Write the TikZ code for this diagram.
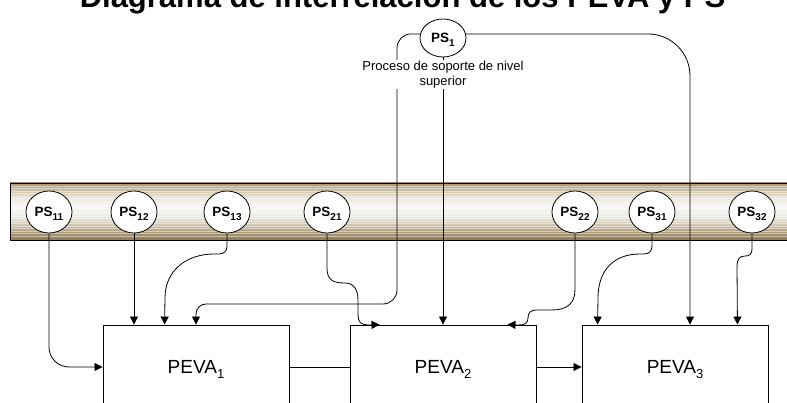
\documentclass[tikz,border=0pt]{standalone}
\usepackage{fontspec}
\setmainfont{Liberation Sans}
\usetikzlibrary{arrows.meta,shapes.geometric,calc}
\definecolor{bA}{HTML}{8C7852}
\definecolor{bB}{HTML}{AD9C7A}
\definecolor{bC}{HTML}{D3C8B2}
\definecolor{bD}{HTML}{ECEBE5}
\definecolor{bE}{HTML}{F7F7F5}
\definecolor{bF}{HTML}{EBE5DA}
\definecolor{bG}{HTML}{D3C6AD}
\definecolor{bH}{HTML}{A69272}
\pgfdeclareverticalshading{bandshade}{100bp}{color(0bp)=(bA); color(25bp)=(bA); color(32bp)=(bB); color(39bp)=(bC); color(46bp)=(bD); color(55bp)=(bE); color(62bp)=(bF); color(68bp)=(bG); color(75bp)=(bH); color(100bp)=(bH)}
\newcommand\psl[1]{\makebox[0pt]{PS\smash{\raisebox{-3.5pt}{\fontsize{10}{11}\selectfont\bfseries #1}}}}
\newcommand\pvl[1]{PEVA\smash{\raisebox{-5pt}{\fontsize{13}{14}\selectfont #1}}}
\begin{document}
\begin{tikzpicture}[x=1pt,y=-1pt,line join=round,
  conn/.style={draw=black,line width=0.8pt},
  arr/.style={conn,-{Triangle[length=8pt,width=8pt]}},
  psnode/.style={ellipse,draw=black,line width=0.8pt,fill=white,minimum width=46pt,minimum height=42pt,inner sep=0pt,font=\fontsize{13.5}{15}\selectfont\bfseries},
  pevabox/.style={rectangle,draw=black,line width=0.9pt,fill=white,minimum width=186pt,minimum height=84pt,inner sep=0pt,font=\fontsize{19}{22}\selectfont},
  bandline/.style={white,opacity=0.45,line width=0.8pt}]
\useasboundingbox (0,0) rectangle (787,403);
\clip (0,0) rectangle (787,403);
% title
\node[anchor=base,font=\fontsize{31}{36}\selectfont\bfseries] (title) at (402.5,8) {Diagrama de interrelación de los PEVA y PS};
% band
\shade[shading=bandshade] (10,183) rectangle (800,240);
\foreach \yy in {186,188.5,...,238} {\draw[bandline] (10,\yy) -- (800,\yy);}
\draw[line width=0.9pt] (10,183) rectangle (800,240);
% nodes
\node[psnode,minimum height=38pt] (ps1) at (443,38) {\psl{1}};
\node[psnode] (ps11) at (49,212) {\psl{11}};
\node[psnode] (ps12) at (134,212) {\psl{12}};
\node[psnode] (ps13) at (227,212) {\psl{13}};
\node[psnode] (ps21) at (327,212) {\psl{21}};
\node[psnode] (ps22) at (575,212) {\psl{22}};
\node[psnode] (ps31) at (652,212) {\psl{31}};
\node[psnode] (ps32) at (752,212) {\psl{32}};
\node[pevabox] (peva1) at (196,367) {\pvl{1}};
\node[pevabox] (peva2) at (443,367) {\pvl{2}};
\node[pevabox] (peva3) at (675,367) {\pvl{3}};
% connectors from PS1
\draw[arr] (ps1.170) [rounded corners=14pt] -| (397,304) [rounded corners=10pt] -| (peva1.north);
\draw[arr] (ps1.south) -- (peva2.north);
\draw[arr,rounded corners=42pt] (ps1.10) -| ($(peva3.north)+(15,0)$);
% connectors from band
\draw[arr,rounded corners=20pt] (ps11.south) |- (peva1.west);
\draw[arr] (ps12.south) -- (ps12.south |- peva1.north);
\draw[arr] (ps13.south) -- (227,246) .. controls (227,251) and (224,254) .. (219,254) -- (214,254) .. controls (187,254) and (165,270) .. (165,298) -- ($(peva1.north west)+(62,0)$);
\draw[arr] (ps21.south) -- (327,268) .. controls (327,280) and (333,283) .. (345,283) .. controls (354,283) and (358,290) .. (358,300) -- (358,315) .. controls (358,322) and (361,325) .. (368,325) -- ($(peva2.north west)+(30,0)$);
\draw[arr] (ps22.south) -- (575,290) .. controls (575,304) and (566,310) .. (552,310) -- (537,310) .. controls (530,310) and (528,313) .. (528,318) .. controls (528,323) and (525,325) .. (519,325) -- ($(peva2.north east)+(-29,0)$);
\draw[arr] (ps31.south) -- (652,246) .. controls (652,251) and (649,254) .. (644,254) -- (640,254) .. controls (614,254) and (598,270) .. (598,298) -- ($(peva3.north west)+(16,0)$);
\draw[arr] (ps32.south) -- (752,248) .. controls (752,255) and (749,256) .. (745,256) .. controls (740,256) and (737,259) .. (737,266) -- ($(peva3.north east)+(-31,0)$);
% between PEVA
\draw[conn] (peva1.east) -- (peva2.west);
\draw[arr] (peva2.east) -- (peva3.west);
% label
\node[fill=white,inner sep=1pt,align=center,font=\fontsize{13}{15}\selectfont] (lab) at (443,74.5) {Proceso de soporte de nivel\\superior};
\end{tikzpicture}
\end{document}
